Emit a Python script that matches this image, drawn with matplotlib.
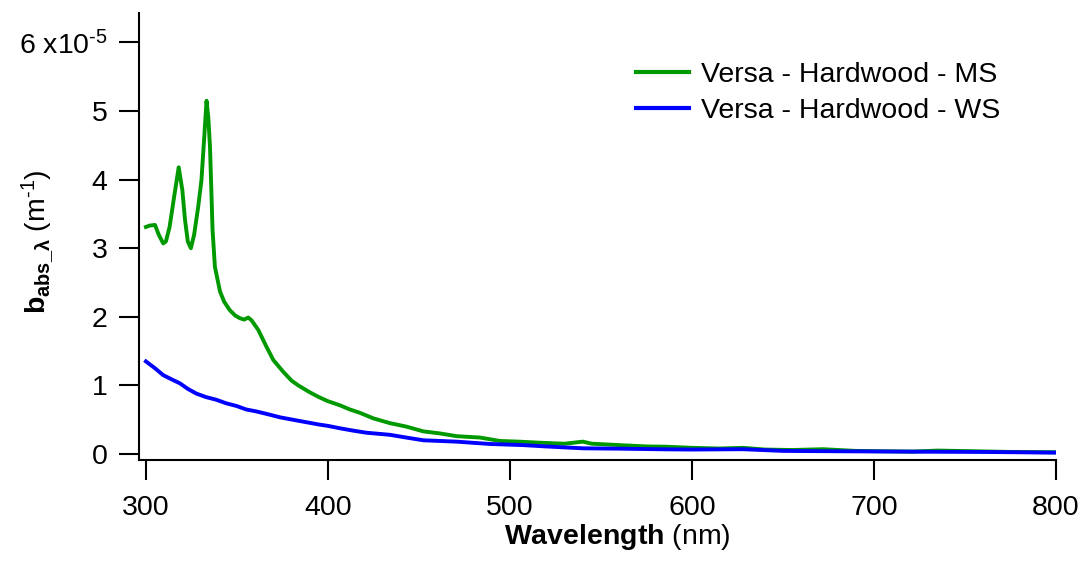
import matplotlib
matplotlib.use("Agg")
import matplotlib.pyplot as plt

plt.rcParams['font.family'] = ['Liberation Sans', 'DejaVu Sans']
plt.rcParams['mathtext.fontset'] = 'custom'
plt.rcParams['mathtext.rm'] = 'Liberation Sans'
plt.rcParams['mathtext.it'] = 'Liberation Sans:italic'
plt.rcParams['mathtext.bf'] = 'Liberation Sans:bold'
plt.rcParams['axes.unicode_minus'] = False

# ---- data (y in units of 1e-5 m^-1) ----
ms_wl = [300, 302, 305, 307, 309.5, 311, 313, 315.5, 318, 320, 321.5, 323, 324.7, 326.5,
         328.7, 330.5, 332, 333.3, 334.3, 335.2, 336, 336.6, 337.9, 340.7, 343, 346, 349,
         351.6, 354, 356.2, 358, 361.7, 366.3, 370, 375.4, 380, 383.7, 390, 395, 400, 406.6,
         412, 417.6, 424.9, 434, 443, 452.4, 461.5, 470.7, 483.5, 494.5, 505, 516, 530, 540,
         545, 560, 575, 586, 600, 615, 628, 640, 655, 672, 690, 705, 721, 735, 755, 775, 800]
ms_val = [3.31, 3.33, 3.34, 3.20, 3.07, 3.10, 3.31, 3.75, 4.18, 3.85, 3.41, 3.10, 3.00, 3.20,
          3.60, 3.99, 4.60, 5.15, 4.90, 4.48, 3.80, 3.27, 2.73, 2.37, 2.22, 2.10, 2.02,
          1.98, 1.96, 1.99, 1.95, 1.81, 1.56, 1.37, 1.20, 1.07, 1.00, 0.90, 0.83, 0.77, 0.71,
          0.65, 0.60, 0.52, 0.45, 0.40, 0.33, 0.30, 0.26, 0.24, 0.19, 0.18, 0.165, 0.15, 0.18,
          0.15, 0.13, 0.11, 0.106, 0.09, 0.08, 0.09, 0.065, 0.058, 0.07, 0.045, 0.04, 0.035, 0.05, 0.04, 0.03, 0.025]

ws_wl = [300, 305, 309.5, 314, 318.7, 323, 327.8, 333, 338.8, 344, 349.8, 355, 360.8, 367,
         373.6, 383.7, 395, 400, 406.6, 414, 421.2, 434, 443, 452.4, 470.7, 489, 507, 520,
         540, 560, 586, 600, 628, 650, 680, 721, 760, 800]
ws_val = [1.35, 1.25, 1.15, 1.09, 1.03, 0.95, 0.88, 0.83, 0.79, 0.74, 0.70, 0.65, 0.62, 0.58,
          0.535, 0.485, 0.43, 0.41, 0.375, 0.34, 0.31, 0.28, 0.24, 0.20, 0.18, 0.146, 0.13, 0.11,
          0.083, 0.078, 0.068, 0.065, 0.07, 0.045, 0.04, 0.034, 0.03, 0.02]

labels = ['Versa - Hardwood - MS', 'Versa - Hardwood - WS']
colors = ['#009900', '#0000ff']
x_ticks = [300, 400, 500, 600, 700, 800]
y_ticks = [0, 1, 2, 3, 4, 5, 6]
y_ticklabels = ['0', '1', '2', '3', '4', '5', r'6 x10$^{\text{-}5}$']

W, H = 1081, 566
fig = plt.figure(figsize=(W / 100, H / 100), dpi=100)
ax = fig.add_axes([139 / W, 1 - 460 / H, (1056 - 139) / W, (460 - 13) / H])

ax.plot(ms_wl, ms_val, color=colors[0], lw=2.8, label=labels[0], solid_joinstyle='round')
ax.plot(ws_wl, ws_val, color=colors[1], lw=2.8, label=labels[1], solid_joinstyle='round')

ax.set_xlim(296.2, 800)
ax.set_ylim(-0.0875, 6.43)
ax.set_xticks(x_ticks)
ax.set_yticks(y_ticks)
ax.set_yticklabels(y_ticklabels)
for s in ['top', 'right']:
    ax.spines[s].set_visible(False)
for s in ['left', 'bottom']:
    ax.spines[s].set_linewidth(1.5)
ax.tick_params(axis='both', direction='out', length=14.5, width=1.5, labelsize=20.5)
ax.tick_params(axis='x', pad=11)
ax.tick_params(axis='y', pad=8)

fig.text(38 / W, 1 - 242 / H, r'$\mathbf{b_{abs\_\lambda}}$' + r' (m$^{\text{-}1}$)', rotation=90,
         ha='center', va='center', fontsize=20.5)
fig.text(617 / W, 1 - 544 / H, r'$\mathbf{Wavelength}$ (nm)', ha='center', va='baseline', fontsize=20.5)

leg = fig.legend(loc='upper left', bbox_to_anchor=(636 / W, 1 - 62 / H), frameon=False,
                 fontsize=20.5, handlelength=1.85, handletextpad=0.43, labelspacing=0.34,
                 borderpad=0, borderaxespad=0)
for l in leg.get_lines():
    l.set_linewidth(3)

fig.savefig('out.png', dpi=100)
